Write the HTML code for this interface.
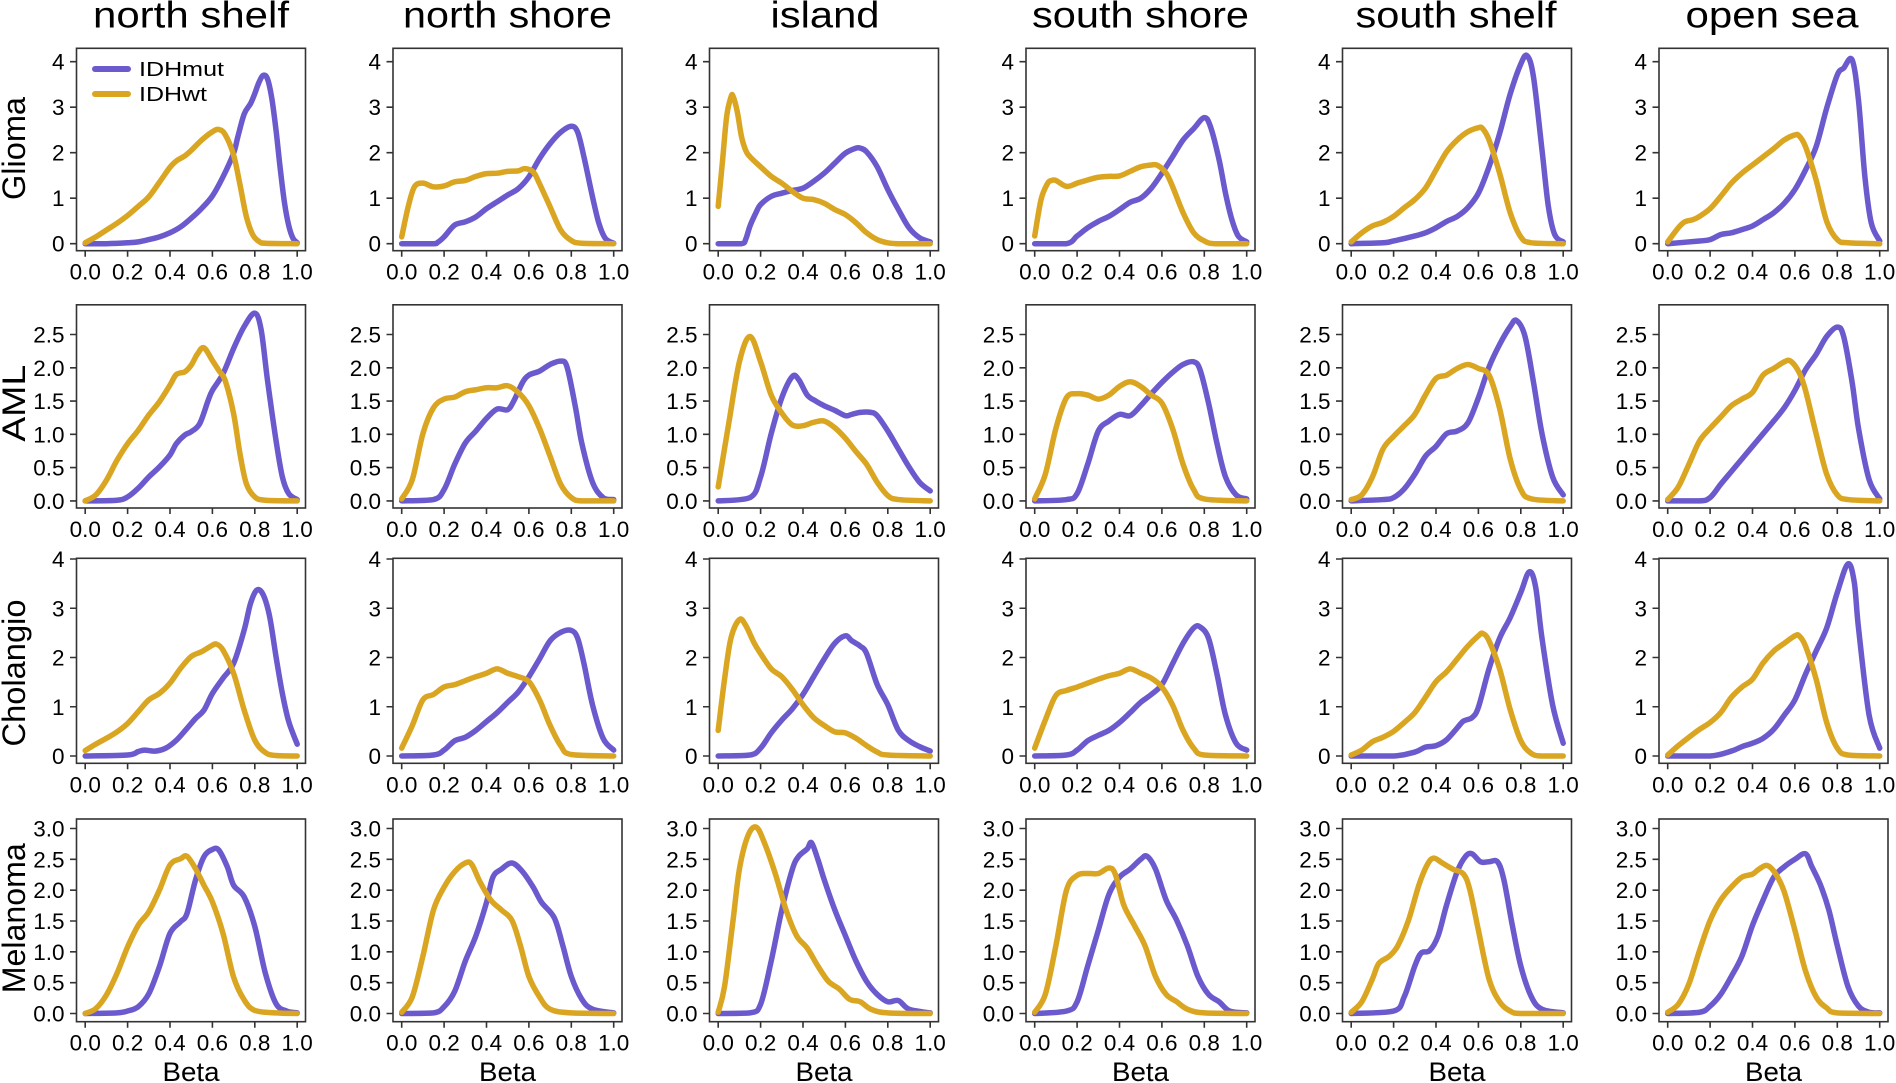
<!DOCTYPE html>
<html><head><meta charset="utf-8"><style>
html,body{margin:0;padding:0;background:#fff}
svg{display:block}
text{font-family:"Liberation Sans",Arial,sans-serif;fill:#000}
.x{font-size:22.5px;text-anchor:middle}
.y{font-size:22.5px;text-anchor:end}
.ti{font-size:37px;text-anchor:middle}
.rl{font-size:32px;text-anchor:middle}
.bt{font-size:27px;text-anchor:middle}
.lg{font-size:20px}
.ax{fill:none;stroke:#333;stroke-width:1.6}
.m{fill:none;stroke:#6A5ACD;stroke-width:5.5;stroke-linejoin:round;stroke-linecap:round;vector-effect:non-scaling-stroke}
.w{fill:none;stroke:#DAA520;stroke-width:5.5;stroke-linejoin:round;stroke-linecap:round;vector-effect:non-scaling-stroke}
</style></head><body>
<svg id="fig" width="1896" height="1083" viewBox="0 0 1896 1083" xmlns="http://www.w3.org/2000/svg">
<rect width="1896" height="1083" fill="#fff"/>
<!-- titles -->
<text class="ti" x="191" y="27.7" textLength="196" lengthAdjust="spacingAndGlyphs">north shelf</text>
<text class="ti" x="507.5" y="27.7" textLength="209" lengthAdjust="spacingAndGlyphs">north shore</text>
<text class="ti" x="825" y="27.7" textLength="109" lengthAdjust="spacingAndGlyphs">island</text>
<text class="ti" x="1140.5" y="27.7" textLength="217" lengthAdjust="spacingAndGlyphs">south shore</text>
<text class="ti" x="1456" y="27.7" textLength="201" lengthAdjust="spacingAndGlyphs">south shelf</text>
<text class="ti" x="1772" y="27.7" textLength="173" lengthAdjust="spacingAndGlyphs">open sea</text>
<!-- row labels -->
<text class="rl" transform="translate(25,148.5) rotate(-90)" textLength="103" lengthAdjust="spacingAndGlyphs">Glioma</text>
<text class="rl" transform="translate(25,403.3) rotate(-90)" textLength="77" lengthAdjust="spacingAndGlyphs">AML</text>
<text class="rl" transform="translate(25,673) rotate(-90)" textLength="147" lengthAdjust="spacingAndGlyphs">Cholangio</text>
<text class="rl" transform="translate(25,918.3) rotate(-90)" textLength="150" lengthAdjust="spacingAndGlyphs">Melanoma</text>
<!-- Beta labels -->
<text class="bt" x="191" y="1081" textLength="57" lengthAdjust="spacingAndGlyphs">Beta</text>
<text class="bt" x="507.5" y="1081" textLength="57" lengthAdjust="spacingAndGlyphs">Beta</text>
<text class="bt" x="824" y="1081" textLength="57" lengthAdjust="spacingAndGlyphs">Beta</text>
<text class="bt" x="1140.5" y="1081" textLength="57" lengthAdjust="spacingAndGlyphs">Beta</text>
<text class="bt" x="1457" y="1081" textLength="57" lengthAdjust="spacingAndGlyphs">Beta</text>
<text class="bt" x="1773.5" y="1081" textLength="57" lengthAdjust="spacingAndGlyphs">Beta</text>

<!-- ================= ROW 1 (Glioma) ================= -->
<g transform="translate(76.5,48.3)">
<rect class="ax" width="229" height="202.4"/>
<path class="ax" d="M8.7 202.4v6M51.1 202.4v6M93.5 202.4v6M135.9 202.4v6M178.3 202.4v6M220.7 202.4v6M-6.5 195.4h6.5M-6.5 149.9h6.5M-6.5 104.4h6.5M-6.5 58.9h6.5M-6.5 13.4h6.5"/>
<text class="x" x="8.7" y="231.4">0.0</text><text class="x" x="51.1" y="231.4">0.2</text><text class="x" x="93.5" y="231.4">0.4</text><text class="x" x="135.9" y="231.4">0.6</text><text class="x" x="178.3" y="231.4">0.8</text><text class="x" x="220.7" y="231.4">1.0</text>
<text class="y" x="-12" y="21.4">4</text><text class="y" x="-12" y="66.9">3</text><text class="y" x="-12" y="112.4">2</text><text class="y" x="-12" y="157.9">1</text><text class="y" x="-12" y="203.4">0</text>
<g transform="translate(8.7,195.4) scale(2.12,-0.455)">
<polyline class="m" points="0,0 10,0 20,2 25,4 30,9 35,15 40,24 45,37 50,56 55,78 60,105 65,147 70,199 72,235 75,285 78,308 80,330 82,355 84,370 86,362 88,320 90,250 92,165 94,90 96,40 98,12 100,2"/>
<polyline class="w" points="0,2 5,15 10,30 15,45 20,62 25,82 30,103 35,135 40,168 43,182 47,193 50,205 55,228 60,246 63,251 66,240 70,195 73,130 76,60 79,20 82,5 85,1 100,0"/>
</g>
</g>
<!-- legend -->
<line x1="95" y1="69" x2="128" y2="69" stroke="#6A5ACD" stroke-width="6" stroke-linecap="round"/>
<line x1="95" y1="94" x2="128" y2="94" stroke="#DAA520" stroke-width="6" stroke-linecap="round"/>
<text class="lg" x="139" y="76" textLength="85" lengthAdjust="spacingAndGlyphs">IDHmut</text>
<text class="lg" x="139" y="101" textLength="68" lengthAdjust="spacingAndGlyphs">IDHwt</text>

<g transform="translate(393,48.3)">
<rect class="ax" width="229" height="202.4"/>
<path class="ax" d="M8.7 202.4v6M51.1 202.4v6M93.5 202.4v6M135.9 202.4v6M178.3 202.4v6M220.7 202.4v6M-6.5 195.4h6.5M-6.5 149.9h6.5M-6.5 104.4h6.5M-6.5 58.9h6.5M-6.5 13.4h6.5"/>
<text class="x" x="8.7" y="231.4">0.0</text><text class="x" x="51.1" y="231.4">0.2</text><text class="x" x="93.5" y="231.4">0.4</text><text class="x" x="135.9" y="231.4">0.6</text><text class="x" x="178.3" y="231.4">0.8</text><text class="x" x="220.7" y="231.4">1.0</text>
<text class="y" x="-12" y="21.4">4</text><text class="y" x="-12" y="66.9">3</text><text class="y" x="-12" y="112.4">2</text><text class="y" x="-12" y="157.9">1</text><text class="y" x="-12" y="203.4">0</text>
<g transform="translate(8.7,195.4) scale(2.12,-0.455)">
<polyline class="m" points="0,0 15,0 17,3 20,15 25,41 30,48 35,59 40,77 45,92 50,107 55,121 60,147 65,187 70,220 75,245 80,258 83,245 86,190 90,103 93,45 96,12 100,1"/>
<polyline class="w" points="0,15 3,80 6,125 10,133 15,125 20,127 25,136 30,139 35,148 40,154 45,155 50,159 55,160 58,165 62,158 65,132 70,81 75,30 80,7 85,1 100,0"/>
</g>
</g>

<g transform="translate(709.5,48.3)">
<rect class="ax" width="229" height="202.4"/>
<path class="ax" d="M8.7 202.4v6M51.1 202.4v6M93.5 202.4v6M135.9 202.4v6M178.3 202.4v6M220.7 202.4v6M-6.5 195.4h6.5M-6.5 149.9h6.5M-6.5 104.4h6.5M-6.5 58.9h6.5M-6.5 13.4h6.5"/>
<text class="x" x="8.7" y="231.4">0.0</text><text class="x" x="51.1" y="231.4">0.2</text><text class="x" x="93.5" y="231.4">0.4</text><text class="x" x="135.9" y="231.4">0.6</text><text class="x" x="178.3" y="231.4">0.8</text><text class="x" x="220.7" y="231.4">1.0</text>
<text class="y" x="-12" y="21.4">4</text><text class="y" x="-12" y="66.9">3</text><text class="y" x="-12" y="112.4">2</text><text class="y" x="-12" y="157.9">1</text><text class="y" x="-12" y="203.4">0</text>
<g transform="translate(8.7,195.4) scale(2.12,-0.455)">
<polyline class="m" points="0,0 11,0 13,10 15,39 18,70 20,86 25,104 30,111 35,117 40,122 45,137 50,155 55,177 60,199 65,210 67,210 70,202 75,169 80,119 85,75 90,35 95,13 100,4"/>
<polyline class="w" points="0,82 2,180 4,280 6,322 7,324 9,290 11,235 13,205 15,191 20,169 25,148 30,133 35,115 40,100 45,97 50,89 55,75 60,64 65,46 70,24 75,9 80,2 85,0 100,0"/>
</g>
</g>

<g transform="translate(1026,48.3)">
<rect class="ax" width="229" height="202.4"/>
<path class="ax" d="M8.7 202.4v6M51.1 202.4v6M93.5 202.4v6M135.9 202.4v6M178.3 202.4v6M220.7 202.4v6M-6.5 195.4h6.5M-6.5 149.9h6.5M-6.5 104.4h6.5M-6.5 58.9h6.5M-6.5 13.4h6.5"/>
<text class="x" x="8.7" y="231.4">0.0</text><text class="x" x="51.1" y="231.4">0.2</text><text class="x" x="93.5" y="231.4">0.4</text><text class="x" x="135.9" y="231.4">0.6</text><text class="x" x="178.3" y="231.4">0.8</text><text class="x" x="220.7" y="231.4">1.0</text>
<text class="y" x="-12" y="21.4">4</text><text class="y" x="-12" y="66.9">3</text><text class="y" x="-12" y="112.4">2</text><text class="y" x="-12" y="157.9">1</text><text class="y" x="-12" y="203.4">0</text>
<g transform="translate(8.7,195.4) scale(2.12,-0.455)">
<polyline class="m" points="0,0 15,0 20,17 25,35 30,49 35,60 40,75 45,91 50,100 55,122 60,155 65,191 70,228 75,253 80,277 83,256 87,184 90,111 93,53 96,17 100,4"/>
<polyline class="w" points="0,17 3,97 6,132 8,139 10,139 15,126 20,133 25,140 30,146 35,148 40,149 45,159 50,169 55,173 58,172 62,155 65,126 70,68 75,24 80,6 85,0 100,0"/>
</g>
</g>

<g transform="translate(1342.5,48.3)">
<rect class="ax" width="229" height="202.4"/>
<path class="ax" d="M8.7 202.4v6M51.1 202.4v6M93.5 202.4v6M135.9 202.4v6M178.3 202.4v6M220.7 202.4v6M-6.5 195.4h6.5M-6.5 149.9h6.5M-6.5 104.4h6.5M-6.5 58.9h6.5M-6.5 13.4h6.5"/>
<text class="x" x="8.7" y="231.4">0.0</text><text class="x" x="51.1" y="231.4">0.2</text><text class="x" x="93.5" y="231.4">0.4</text><text class="x" x="135.9" y="231.4">0.6</text><text class="x" x="178.3" y="231.4">0.8</text><text class="x" x="220.7" y="231.4">1.0</text>
<text class="y" x="-12" y="21.4">4</text><text class="y" x="-12" y="66.9">3</text><text class="y" x="-12" y="112.4">2</text><text class="y" x="-12" y="157.9">1</text><text class="y" x="-12" y="203.4">0</text>
<g transform="translate(8.7,195.4) scale(2.12,-0.455)">
<polyline class="m" points="0,0 15,2 20,6 30,17 35,24 40,35 45,49 50,60 55,79 60,111 65,169 70,242 75,329 80,395 83,413 86,366 90,206 93,82 96,20 100,4"/>
<polyline class="w" points="0,4 5,24 10,39 15,47 20,60 25,79 30,97 35,122 40,162 45,202 50,228 55,246 60,255 62,253 65,228 70,155 75,68 80,15 85,2 100,0"/>
</g>
</g>

<g transform="translate(1659,48.3)">
<rect class="ax" width="229" height="202.4"/>
<path class="ax" d="M8.7 202.4v6M51.1 202.4v6M93.5 202.4v6M135.9 202.4v6M178.3 202.4v6M220.7 202.4v6M-6.5 195.4h6.5M-6.5 149.9h6.5M-6.5 104.4h6.5M-6.5 58.9h6.5M-6.5 13.4h6.5"/>
<text class="x" x="8.7" y="231.4">0.0</text><text class="x" x="51.1" y="231.4">0.2</text><text class="x" x="93.5" y="231.4">0.4</text><text class="x" x="135.9" y="231.4">0.6</text><text class="x" x="178.3" y="231.4">0.8</text><text class="x" x="220.7" y="231.4">1.0</text>
<text class="y" x="-12" y="21.4">4</text><text class="y" x="-12" y="66.9">3</text><text class="y" x="-12" y="112.4">2</text><text class="y" x="-12" y="157.9">1</text><text class="y" x="-12" y="203.4">0</text>
<g transform="translate(8.7,195.4) scale(2.12,-0.455)">
<polyline class="m" points="0,0 15,6 20,9 25,20 30,24 35,31 40,39 45,53 50,68 55,89 60,119 65,162 70,213 75,298 80,371 83,386 87,404 90,315 93,148 96,46 100,6"/>
<polyline class="w" points="0,4 5,35 8,48 12,53 15,60 20,77 25,104 30,133 35,155 40,173 45,191 50,209 55,228 60,239 62,237 65,213 70,140 75,49 80,9 85,2 100,0"/>
</g>
</g>

<!-- ================= ROW 2 (AML) ================= -->
<g transform="translate(76.5,304.8)">
<rect class="ax" width="229" height="203.2"/>
<path class="ax" d="M8.7 203.2v6M51.1 203.2v6M93.5 203.2v6M135.9 203.2v6M178.3 203.2v6M220.7 203.2v6M-6.5 196.1h6.5M-6.5 162.8h6.5M-6.5 129.5h6.5M-6.5 96.3h6.5M-6.5 63h6.5M-6.5 29.7h6.5"/>
<text class="x" x="8.7" y="232.2">0.0</text><text class="x" x="51.1" y="232.2">0.2</text><text class="x" x="93.5" y="232.2">0.4</text><text class="x" x="135.9" y="232.2">0.6</text><text class="x" x="178.3" y="232.2">0.8</text><text class="x" x="220.7" y="232.2">1.0</text>
<text class="y" x="-12" y="37.7">2.5</text><text class="y" x="-12" y="71">2.0</text><text class="y" x="-12" y="104.3">1.5</text><text class="y" x="-12" y="137.5">1.0</text><text class="y" x="-12" y="170.8">0.5</text><text class="y" x="-12" y="204.1">0.0</text>
<g transform="translate(8.7,196.1) scale(2.12,-0.6656)">
<polyline class="m" points="0,0 15,1 20,6 25,19 30,36 35,51 40,69 43,86 47,99 50,104 54,116 58,151 60,166 65,191 70,229 75,262 80,282 83,257 86,181 90,91 93,36 96,11 100,2"/>
<polyline class="w" points="0,0 5,9 10,31 15,61 20,86 25,106 30,129 35,149 40,174 43,190 47,194 50,204 53,221 56,230 60,211 63,196 66,181 70,131 73,71 76,26 80,6 85,1 100,0"/>
</g>
</g>

<g transform="translate(393,304.8)">
<rect class="ax" width="229" height="203.2"/>
<path class="ax" d="M8.7 203.2v6M51.1 203.2v6M93.5 203.2v6M135.9 203.2v6M178.3 203.2v6M220.7 203.2v6M-6.5 196.1h6.5M-6.5 162.8h6.5M-6.5 129.5h6.5M-6.5 96.3h6.5M-6.5 63h6.5M-6.5 29.7h6.5"/>
<text class="x" x="8.7" y="232.2">0.0</text><text class="x" x="51.1" y="232.2">0.2</text><text class="x" x="93.5" y="232.2">0.4</text><text class="x" x="135.9" y="232.2">0.6</text><text class="x" x="178.3" y="232.2">0.8</text><text class="x" x="220.7" y="232.2">1.0</text>
<text class="y" x="-12" y="37.7">2.5</text><text class="y" x="-12" y="71">2.0</text><text class="y" x="-12" y="104.3">1.5</text><text class="y" x="-12" y="137.5">1.0</text><text class="y" x="-12" y="170.8">0.5</text><text class="y" x="-12" y="204.1">0.0</text>
<g transform="translate(8.7,196.1) scale(2.12,-0.6656)">
<polyline class="m" points="0,0 15,2 20,17 25,55 30,87 35,105 40,124 45,138 50,137 53,151 57,178 60,189 65,195 70,205 75,210 78,201 82,140 85,86 90,28 95,5 100,2"/>
<polyline class="w" points="0,3 5,32 10,101 15,140 20,153 25,156 30,164 35,167 40,170 45,170 50,173 55,163 60,143 65,109 70,67 75,25 80,5 85,0 100,0"/>
</g>
</g>

<g transform="translate(709.5,304.8)">
<rect class="ax" width="229" height="203.2"/>
<path class="ax" d="M8.7 203.2v6M51.1 203.2v6M93.5 203.2v6M135.9 203.2v6M178.3 203.2v6M220.7 203.2v6M-6.5 196.1h6.5M-6.5 162.8h6.5M-6.5 129.5h6.5M-6.5 96.3h6.5M-6.5 63h6.5M-6.5 29.7h6.5"/>
<text class="x" x="8.7" y="232.2">0.0</text><text class="x" x="51.1" y="232.2">0.2</text><text class="x" x="93.5" y="232.2">0.4</text><text class="x" x="135.9" y="232.2">0.6</text><text class="x" x="178.3" y="232.2">0.8</text><text class="x" x="220.7" y="232.2">1.0</text>
<text class="y" x="-12" y="37.7">2.5</text><text class="y" x="-12" y="71">2.0</text><text class="y" x="-12" y="104.3">1.5</text><text class="y" x="-12" y="137.5">1.0</text><text class="y" x="-12" y="170.8">0.5</text><text class="y" x="-12" y="204.1">0.0</text>
<g transform="translate(8.7,196.1) scale(2.12,-0.6656)">
<polyline class="m" points="0,0 15,5 20,36 25,101 30,155 35,187 38,182 42,159 46,150 50,143 55,136 60,128 63,130 67,133 72,133 75,128 80,105 85,78 90,51 95,28 100,15"/>
<polyline class="w" points="0,21 5,117 10,209 15,247 20,209 25,159 30,132 35,114 40,113 45,118 50,120 55,110 60,94 65,74 70,55 75,28 80,8 85,2 100,0"/>
</g>
</g>

<g transform="translate(1026,304.8)">
<rect class="ax" width="229" height="203.2"/>
<path class="ax" d="M8.7 203.2v6M51.1 203.2v6M93.5 203.2v6M135.9 203.2v6M178.3 203.2v6M220.7 203.2v6M-6.5 196.1h6.5M-6.5 162.8h6.5M-6.5 129.5h6.5M-6.5 96.3h6.5M-6.5 63h6.5M-6.5 29.7h6.5"/>
<text class="x" x="8.7" y="232.2">0.0</text><text class="x" x="51.1" y="232.2">0.2</text><text class="x" x="93.5" y="232.2">0.4</text><text class="x" x="135.9" y="232.2">0.6</text><text class="x" x="178.3" y="232.2">0.8</text><text class="x" x="220.7" y="232.2">1.0</text>
<text class="y" x="-12" y="37.7">2.5</text><text class="y" x="-12" y="71">2.0</text><text class="y" x="-12" y="104.3">1.5</text><text class="y" x="-12" y="137.5">1.0</text><text class="y" x="-12" y="170.8">0.5</text><text class="y" x="-12" y="204.1">0.0</text>
<g transform="translate(8.7,196.1) scale(2.12,-0.6656)">
<polyline class="m" points="0,0 15,2 20,11 25,55 30,105 35,120 40,130 45,128 50,143 55,161 60,178 65,193 70,205 75,209 78,197 82,147 86,86 90,36 95,9 100,3"/>
<polyline class="w" points="0,3 5,40 10,109 15,155 20,161 25,159 30,153 35,159 40,172 45,179 50,172 55,159 60,147 65,109 70,55 75,17 80,3 100,0"/>
</g>
</g>

<g transform="translate(1342.5,304.8)">
<rect class="ax" width="229" height="203.2"/>
<path class="ax" d="M8.7 203.2v6M51.1 203.2v6M93.5 203.2v6M135.9 203.2v6M178.3 203.2v6M220.7 203.2v6M-6.5 196.1h6.5M-6.5 162.8h6.5M-6.5 129.5h6.5M-6.5 96.3h6.5M-6.5 63h6.5M-6.5 29.7h6.5"/>
<text class="x" x="8.7" y="232.2">0.0</text><text class="x" x="51.1" y="232.2">0.2</text><text class="x" x="93.5" y="232.2">0.4</text><text class="x" x="135.9" y="232.2">0.6</text><text class="x" x="178.3" y="232.2">0.8</text><text class="x" x="220.7" y="232.2">1.0</text>
<text class="y" x="-12" y="37.7">2.5</text><text class="y" x="-12" y="71">2.0</text><text class="y" x="-12" y="104.3">1.5</text><text class="y" x="-12" y="137.5">1.0</text><text class="y" x="-12" y="170.8">0.5</text><text class="y" x="-12" y="204.1">0.0</text>
<g transform="translate(8.7,196.1) scale(2.12,-0.6656)">
<polyline class="m" points="0,0 15,2 20,5 25,18 30,40 35,67 40,82 45,101 50,105 55,117 60,155 65,201 70,235 75,262 78,271 82,247 86,178 90,101 95,36 100,9"/>
<polyline class="w" points="0,2 5,9 10,36 15,78 20,97 25,113 30,130 35,159 40,184 45,189 50,199 55,205 60,199 65,189 70,139 75,63 80,17 85,3 100,0"/>
</g>
</g>

<g transform="translate(1659,304.8)">
<rect class="ax" width="229" height="203.2"/>
<path class="ax" d="M8.7 203.2v6M51.1 203.2v6M93.5 203.2v6M135.9 203.2v6M178.3 203.2v6M220.7 203.2v6M-6.5 196.1h6.5M-6.5 162.8h6.5M-6.5 129.5h6.5M-6.5 96.3h6.5M-6.5 63h6.5M-6.5 29.7h6.5"/>
<text class="x" x="8.7" y="232.2">0.0</text><text class="x" x="51.1" y="232.2">0.2</text><text class="x" x="93.5" y="232.2">0.4</text><text class="x" x="135.9" y="232.2">0.6</text><text class="x" x="178.3" y="232.2">0.8</text><text class="x" x="220.7" y="232.2">1.0</text>
<text class="y" x="-12" y="37.7">2.5</text><text class="y" x="-12" y="71">2.0</text><text class="y" x="-12" y="104.3">1.5</text><text class="y" x="-12" y="137.5">1.0</text><text class="y" x="-12" y="170.8">0.5</text><text class="y" x="-12" y="204.1">0.0</text>
<g transform="translate(8.7,196.1) scale(2.12,-0.6656)">
<polyline class="m" points="0,0 15,0 20,5 25,25 30,44 35,63 40,82 45,101 50,120 55,140 60,166 65,197 70,220 75,247 80,261 83,247 87,178 90,109 95,32 100,3"/>
<polyline class="w" points="0,2 5,21 10,55 15,90 20,109 25,126 30,143 35,153 40,163 45,189 50,199 55,209 58,210 62,193 65,166 70,101 75,40 80,9 85,2 100,0"/>
</g>
</g>

<!-- ================= ROW 3 (Cholangio) ================= -->
<g transform="translate(76.5,558.3)">
<rect class="ax" width="229" height="205"/>
<path class="ax" d="M8.7 205v6M51.1 205v6M93.5 205v6M135.9 205v6M178.3 205v6M220.7 205v6M-6.5 197.7h6.5M-6.5 148.45h6.5M-6.5 99.2h6.5M-6.5 49.95h6.5M-6.5 0.7h6.5"/>
<text class="x" x="8.7" y="234">0.0</text><text class="x" x="51.1" y="234">0.2</text><text class="x" x="93.5" y="234">0.4</text><text class="x" x="135.9" y="234">0.6</text><text class="x" x="178.3" y="234">0.8</text><text class="x" x="220.7" y="234">1.0</text>
<text class="y" x="-12" y="8.7">4</text><text class="y" x="-12" y="58">3</text><text class="y" x="-12" y="107.2">2</text><text class="y" x="-12" y="156.5">1</text><text class="y" x="-12" y="205.7">0</text>
<g transform="translate(8.7,197.7) scale(2.12,-0.4925)">
<polyline class="m" points="0,0 20,2 25,9 28,12 33,10 38,16 43,32 48,56 52,76 56,93 60,127 65,158 70,188 75,256 78,310 81,337 84,327 87,283 90,202 93,127 96,70 100,24"/>
<polyline class="w" points="0,11 5,24 10,36 15,49 20,66 25,90 30,114 35,127 40,148 45,178 50,202 55,212 60,225 62,227 65,215 70,168 75,93 80,32 85,7 90,1 100,0"/>
</g>
</g>

<g transform="translate(393,558.3)">
<rect class="ax" width="229" height="205"/>
<path class="ax" d="M8.7 205v6M51.1 205v6M93.5 205v6M135.9 205v6M178.3 205v6M220.7 205v6M-6.5 197.7h6.5M-6.5 148.45h6.5M-6.5 99.2h6.5M-6.5 49.95h6.5M-6.5 0.7h6.5"/>
<text class="x" x="8.7" y="234">0.0</text><text class="x" x="51.1" y="234">0.2</text><text class="x" x="93.5" y="234">0.4</text><text class="x" x="135.9" y="234">0.6</text><text class="x" x="178.3" y="234">0.8</text><text class="x" x="220.7" y="234">1.0</text>
<text class="y" x="-12" y="8.7">4</text><text class="y" x="-12" y="58">3</text><text class="y" x="-12" y="107.2">2</text><text class="y" x="-12" y="156.5">1</text><text class="y" x="-12" y="205.7">0</text>
<g transform="translate(8.7,197.7) scale(2.12,-0.4925)">
<polyline class="m" points="0,0 15,2 20,12 25,31 30,38 35,52 40,70 45,88 50,109 55,130 60,161 65,197 70,234 75,251 80,255 83,239 86,187 90,104 95,36 100,12"/>
<polyline class="w" points="0,16 5,62 10,114 15,125 20,140 25,145 30,153 35,161 40,168 45,177 50,168 55,161 60,151 65,114 70,62 75,21 80,3 100,0"/>
</g>
</g>

<g transform="translate(709.5,558.3)">
<rect class="ax" width="229" height="205"/>
<path class="ax" d="M8.7 205v6M51.1 205v6M93.5 205v6M135.9 205v6M178.3 205v6M220.7 205v6M-6.5 197.7h6.5M-6.5 148.45h6.5M-6.5 99.2h6.5M-6.5 49.95h6.5M-6.5 0.7h6.5"/>
<text class="x" x="8.7" y="234">0.0</text><text class="x" x="51.1" y="234">0.2</text><text class="x" x="93.5" y="234">0.4</text><text class="x" x="135.9" y="234">0.6</text><text class="x" x="178.3" y="234">0.8</text><text class="x" x="220.7" y="234">1.0</text>
<text class="y" x="-12" y="8.7">4</text><text class="y" x="-12" y="58">3</text><text class="y" x="-12" y="107.2">2</text><text class="y" x="-12" y="156.5">1</text><text class="y" x="-12" y="205.7">0</text>
<g transform="translate(8.7,197.7) scale(2.12,-0.4925)">
<polyline class="m" points="0,0 15,2 20,16 25,47 30,73 35,96 40,125 45,161 50,197 55,229 60,244 63,234 67,223 70,208 75,145 80,104 85,52 90,31 95,19 100,10"/>
<polyline class="w" points="0,52 3,156 6,239 10,277 13,265 17,229 20,208 25,177 30,161 35,135 40,104 45,78 50,62 55,49 60,47 65,36 70,21 75,8 80,2 100,0"/>
</g>
</g>

<g transform="translate(1026,558.3)">
<rect class="ax" width="229" height="205"/>
<path class="ax" d="M8.7 205v6M51.1 205v6M93.5 205v6M135.9 205v6M178.3 205v6M220.7 205v6M-6.5 197.7h6.5M-6.5 148.45h6.5M-6.5 99.2h6.5M-6.5 49.95h6.5M-6.5 0.7h6.5"/>
<text class="x" x="8.7" y="234">0.0</text><text class="x" x="51.1" y="234">0.2</text><text class="x" x="93.5" y="234">0.4</text><text class="x" x="135.9" y="234">0.6</text><text class="x" x="178.3" y="234">0.8</text><text class="x" x="220.7" y="234">1.0</text>
<text class="y" x="-12" y="8.7">4</text><text class="y" x="-12" y="58">3</text><text class="y" x="-12" y="107.2">2</text><text class="y" x="-12" y="156.5">1</text><text class="y" x="-12" y="205.7">0</text>
<g transform="translate(8.7,197.7) scale(2.12,-0.4925)">
<polyline class="m" points="0,0 15,2 20,12 25,31 30,42 35,52 40,68 45,88 50,109 55,125 60,145 65,187 70,229 75,260 78,262 82,239 86,166 90,83 95,26 100,12"/>
<polyline class="w" points="0,16 5,73 10,123 15,133 20,140 25,148 30,156 35,163 40,168 45,177 50,168 55,158 60,140 65,104 70,52 75,16 80,2 100,0"/>
</g>
</g>

<g transform="translate(1342.5,558.3)">
<rect class="ax" width="229" height="205"/>
<path class="ax" d="M8.7 205v6M51.1 205v6M93.5 205v6M135.9 205v6M178.3 205v6M220.7 205v6M-6.5 197.7h6.5M-6.5 148.45h6.5M-6.5 99.2h6.5M-6.5 49.95h6.5M-6.5 0.7h6.5"/>
<text class="x" x="8.7" y="234">0.0</text><text class="x" x="51.1" y="234">0.2</text><text class="x" x="93.5" y="234">0.4</text><text class="x" x="135.9" y="234">0.6</text><text class="x" x="178.3" y="234">0.8</text><text class="x" x="220.7" y="234">1.0</text>
<text class="y" x="-12" y="8.7">4</text><text class="y" x="-12" y="58">3</text><text class="y" x="-12" y="107.2">2</text><text class="y" x="-12" y="156.5">1</text><text class="y" x="-12" y="205.7">0</text>
<g transform="translate(8.7,197.7) scale(2.12,-0.4925)">
<polyline class="m" points="0,0 20,0 30,8 35,18 40,21 45,33 50,57 53,71 57,78 60,99 65,177 70,239 75,281 80,332 84,374 87,343 90,239 95,104 100,26"/>
<polyline class="w" points="0,2 5,12 10,29 15,38 20,50 25,68 30,88 35,119 40,151 45,171 50,197 55,223 60,244 62,249 65,234 70,177 75,94 80,31 85,5 90,0 100,0"/>
</g>
</g>

<g transform="translate(1659,558.3)">
<rect class="ax" width="229" height="205"/>
<path class="ax" d="M8.7 205v6M51.1 205v6M93.5 205v6M135.9 205v6M178.3 205v6M220.7 205v6M-6.5 197.7h6.5M-6.5 148.45h6.5M-6.5 99.2h6.5M-6.5 49.95h6.5M-6.5 0.7h6.5"/>
<text class="x" x="8.7" y="234">0.0</text><text class="x" x="51.1" y="234">0.2</text><text class="x" x="93.5" y="234">0.4</text><text class="x" x="135.9" y="234">0.6</text><text class="x" x="178.3" y="234">0.8</text><text class="x" x="220.7" y="234">1.0</text>
<text class="y" x="-12" y="8.7">4</text><text class="y" x="-12" y="58">3</text><text class="y" x="-12" y="107.2">2</text><text class="y" x="-12" y="156.5">1</text><text class="y" x="-12" y="205.7">0</text>
<g transform="translate(8.7,197.7) scale(2.12,-0.4925)">
<polyline class="m" points="0,0 20,0 30,10 35,19 40,26 45,36 50,54 55,83 60,114 65,166 70,213 75,260 80,332 85,390 88,353 90,260 95,83 100,16"/>
<polyline class="w" points="0,2 5,21 10,38 15,54 20,68 25,88 30,119 35,140 40,156 45,189 50,213 55,229 60,244 62,244 65,223 70,156 75,68 80,16 85,2 100,0"/>
</g>
</g>

<!-- ================= ROW 4 (Melanoma) ================= -->
<g transform="translate(76.5,819)">
<rect class="ax" width="229" height="202.7"/>
<path class="ax" d="M8.7 202.7v6M51.1 202.7v6M93.5 202.7v6M135.9 202.7v6M178.3 202.7v6M220.7 202.7v6M-6.5 194.5h6.5M-6.5 163.7h6.5M-6.5 132.8h6.5M-6.5 102h6.5M-6.5 71.2h6.5M-6.5 40.3h6.5M-6.5 9.5h6.5"/>
<text class="x" x="8.7" y="231.7">0.0</text><text class="x" x="51.1" y="231.7">0.2</text><text class="x" x="93.5" y="231.7">0.4</text><text class="x" x="135.9" y="231.7">0.6</text><text class="x" x="178.3" y="231.7">0.8</text><text class="x" x="220.7" y="231.7">1.0</text>
<text class="y" x="-12" y="17.5">3.0</text><text class="y" x="-12" y="48.3">2.5</text><text class="y" x="-12" y="79.2">2.0</text><text class="y" x="-12" y="110">1.5</text><text class="y" x="-12" y="140.8">1.0</text><text class="y" x="-12" y="171.7">0.5</text><text class="y" x="-12" y="202.5">0.0</text>
<g transform="translate(8.7,194.5) scale(2.12,-0.6167)">
<polyline class="m" points="0,0 15,1 20,4 25,11 30,32 35,76 40,130 45,149 48,162 52,216 56,254 60,266 63,265 67,238 70,208 75,189 80,141 85,65 90,16 95,4 100,1"/>
<polyline class="w" points="0,0 5,8 10,30 15,65 20,108 25,143 30,165 35,200 40,241 45,251 48,255 52,235 56,208 60,181 65,130 70,59 75,22 80,5 90,1 100,0"/>
</g>
</g>

<g transform="translate(393,819)">
<rect class="ax" width="229" height="202.7"/>
<path class="ax" d="M8.7 202.7v6M51.1 202.7v6M93.5 202.7v6M135.9 202.7v6M178.3 202.7v6M220.7 202.7v6M-6.5 194.5h6.5M-6.5 163.7h6.5M-6.5 132.8h6.5M-6.5 102h6.5M-6.5 71.2h6.5M-6.5 40.3h6.5M-6.5 9.5h6.5"/>
<text class="x" x="8.7" y="231.7">0.0</text><text class="x" x="51.1" y="231.7">0.2</text><text class="x" x="93.5" y="231.7">0.4</text><text class="x" x="135.9" y="231.7">0.6</text><text class="x" x="178.3" y="231.7">0.8</text><text class="x" x="220.7" y="231.7">1.0</text>
<text class="y" x="-12" y="17.5">3.0</text><text class="y" x="-12" y="48.3">2.5</text><text class="y" x="-12" y="79.2">2.0</text><text class="y" x="-12" y="110">1.5</text><text class="y" x="-12" y="140.8">1.0</text><text class="y" x="-12" y="171.7">0.5</text><text class="y" x="-12" y="202.5">0.0</text>
<g transform="translate(8.7,194.5) scale(2.12,-0.6167)">
<polyline class="m" points="0,0 15,1 20,11 25,36 30,85 35,126 40,180 43,221 47,234 52,244 57,230 62,205 66,180 72,155 76,110 80,60 85,23 90,7 100,1"/>
<polyline class="w" points="0,2 5,27 10,93 15,168 20,205 25,230 30,244 33,242 37,213 42,184 47,168 52,151 56,110 60,60 65,27 70,7 80,1 100,0"/>
</g>
</g>

<g transform="translate(709.5,819)">
<rect class="ax" width="229" height="202.7"/>
<path class="ax" d="M8.7 202.7v6M51.1 202.7v6M93.5 202.7v6M135.9 202.7v6M178.3 202.7v6M220.7 202.7v6M-6.5 194.5h6.5M-6.5 163.7h6.5M-6.5 132.8h6.5M-6.5 102h6.5M-6.5 71.2h6.5M-6.5 40.3h6.5M-6.5 9.5h6.5"/>
<text class="x" x="8.7" y="231.7">0.0</text><text class="x" x="51.1" y="231.7">0.2</text><text class="x" x="93.5" y="231.7">0.4</text><text class="x" x="135.9" y="231.7">0.6</text><text class="x" x="178.3" y="231.7">0.8</text><text class="x" x="220.7" y="231.7">1.0</text>
<text class="y" x="-12" y="17.5">3.0</text><text class="y" x="-12" y="48.3">2.5</text><text class="y" x="-12" y="79.2">2.0</text><text class="y" x="-12" y="110">1.5</text><text class="y" x="-12" y="140.8">1.0</text><text class="y" x="-12" y="171.7">0.5</text><text class="y" x="-12" y="202.5">0.0</text>
<g transform="translate(8.7,194.5) scale(2.12,-0.6167)">
<polyline class="m" points="0,0 15,1 20,15 25,85 30,168 35,234 38,255 42,267 44,277 47,250 50,217 55,168 60,126 65,85 70,52 75,31 80,19 85,21 90,7 100,1"/>
<polyline class="w" points="0,2 3,44 7,151 10,234 14,288 18,302 22,275 27,226 32,168 37,126 42,106 47,77 52,52 57,40 62,23 67,19 72,7 80,1 100,0"/>
</g>
</g>

<g transform="translate(1026,819)">
<rect class="ax" width="229" height="202.7"/>
<path class="ax" d="M8.7 202.7v6M51.1 202.7v6M93.5 202.7v6M135.9 202.7v6M178.3 202.7v6M220.7 202.7v6M-6.5 194.5h6.5M-6.5 163.7h6.5M-6.5 132.8h6.5M-6.5 102h6.5M-6.5 71.2h6.5M-6.5 40.3h6.5M-6.5 9.5h6.5"/>
<text class="x" x="8.7" y="231.7">0.0</text><text class="x" x="51.1" y="231.7">0.2</text><text class="x" x="93.5" y="231.7">0.4</text><text class="x" x="135.9" y="231.7">0.6</text><text class="x" x="178.3" y="231.7">0.8</text><text class="x" x="220.7" y="231.7">1.0</text>
<text class="y" x="-12" y="17.5">3.0</text><text class="y" x="-12" y="48.3">2.5</text><text class="y" x="-12" y="79.2">2.0</text><text class="y" x="-12" y="110">1.5</text><text class="y" x="-12" y="140.8">1.0</text><text class="y" x="-12" y="171.7">0.5</text><text class="y" x="-12" y="202.5">0.0</text>
<g transform="translate(8.7,194.5) scale(2.12,-0.6167)">
<polyline class="m" points="0,0 15,4 20,19 25,77 30,135 35,193 40,221 45,234 50,250 53,255 57,234 62,184 67,151 72,110 77,60 82,31 87,19 92,4 100,1"/>
<polyline class="w" points="0,2 5,31 10,110 15,200 20,224 25,227 30,227 35,236 38,226 42,176 47,143 52,110 57,60 62,31 67,19 72,7 80,1 100,0"/>
</g>
</g>

<g transform="translate(1342.5,819)">
<rect class="ax" width="229" height="202.7"/>
<path class="ax" d="M8.7 202.7v6M51.1 202.7v6M93.5 202.7v6M135.9 202.7v6M178.3 202.7v6M220.7 202.7v6M-6.5 194.5h6.5M-6.5 163.7h6.5M-6.5 132.8h6.5M-6.5 102h6.5M-6.5 71.2h6.5M-6.5 40.3h6.5M-6.5 9.5h6.5"/>
<text class="x" x="8.7" y="231.7">0.0</text><text class="x" x="51.1" y="231.7">0.2</text><text class="x" x="93.5" y="231.7">0.4</text><text class="x" x="135.9" y="231.7">0.6</text><text class="x" x="178.3" y="231.7">0.8</text><text class="x" x="220.7" y="231.7">1.0</text>
<text class="y" x="-12" y="17.5">3.0</text><text class="y" x="-12" y="48.3">2.5</text><text class="y" x="-12" y="79.2">2.0</text><text class="y" x="-12" y="110">1.5</text><text class="y" x="-12" y="140.8">1.0</text><text class="y" x="-12" y="171.7">0.5</text><text class="y" x="-12" y="202.5">0.0</text>
<g transform="translate(8.7,194.5) scale(2.12,-0.6167)">
<polyline class="m" points="0,0 20,4 25,27 30,77 33,98 37,102 41,126 45,176 50,230 54,255 57,259 61,246 65,246 69,246 72,217 76,143 80,77 85,27 90,7 100,1"/>
<polyline class="w" points="0,2 5,19 10,56 13,81 18,93 22,110 27,151 32,209 36,242 39,252 43,244 48,234 53,226 56,200 60,135 65,56 70,19 75,4 80,0 100,0"/>
</g>
</g>

<g transform="translate(1659,819)">
<rect class="ax" width="229" height="202.7"/>
<path class="ax" d="M8.7 202.7v6M51.1 202.7v6M93.5 202.7v6M135.9 202.7v6M178.3 202.7v6M220.7 202.7v6M-6.5 194.5h6.5M-6.5 163.7h6.5M-6.5 132.8h6.5M-6.5 102h6.5M-6.5 71.2h6.5M-6.5 40.3h6.5M-6.5 9.5h6.5"/>
<text class="x" x="8.7" y="231.7">0.0</text><text class="x" x="51.1" y="231.7">0.2</text><text class="x" x="93.5" y="231.7">0.4</text><text class="x" x="135.9" y="231.7">0.6</text><text class="x" x="178.3" y="231.7">0.8</text><text class="x" x="220.7" y="231.7">1.0</text>
<text class="y" x="-12" y="17.5">3.0</text><text class="y" x="-12" y="48.3">2.5</text><text class="y" x="-12" y="79.2">2.0</text><text class="y" x="-12" y="110">1.5</text><text class="y" x="-12" y="140.8">1.0</text><text class="y" x="-12" y="171.7">0.5</text><text class="y" x="-12" y="202.5">0.0</text>
<g transform="translate(8.7,194.5) scale(2.12,-0.6167)">
<polyline class="m" points="0,0 15,2 20,12 25,31 30,60 35,93 40,143 45,184 50,221 55,238 60,250 65,259 68,238 72,209 76,168 80,110 85,44 90,12 95,2 100,1"/>
<polyline class="w" points="0,2 5,15 10,48 15,102 20,151 25,184 30,205 35,221 40,226 43,234 47,240 51,226 55,197 60,135 65,69 70,27 75,9 80,1 100,0"/>
</g>
</g>
</svg>
<script>
(function(){
  var NS="http://www.w3.org/2000/svg";
  var pls=document.querySelectorAll("#fig polyline");
  for(var k=0;k<pls.length;k++){
    var pl=pls[k];
    var raw=pl.getAttribute("points").trim().split(/\s+/);
    var p=[];
    for(var i=0;i<raw.length;i++){var a=raw[i].split(",");p.push([+a[0],+a[1]]);}
    var d="M"+p[0][0]+","+p[0][1];
    for(var i=0;i<p.length-1;i++){
      var p0=p[i-1]||p[i],p1=p[i],p2=p[i+1],p3=p[i+2]||p[i+1];
      var c1x=p1[0]+(p2[0]-p0[0])/6,c1y=p1[1]+(p2[1]-p0[1])/6;
      var c2x=p2[0]-(p3[0]-p1[0])/6,c2y=p2[1]-(p3[1]-p1[1])/6;
      c1x=Math.max(p1[0],Math.min(p2[0],c1x));c2x=Math.max(p1[0],Math.min(p2[0],c2x));
      if(c1y<0)c1y=0;if(c2y<0)c2y=0;
      d+="C"+c1x.toFixed(2)+","+c1y.toFixed(2)+" "+c2x.toFixed(2)+","+c2y.toFixed(2)+" "+p2[0]+","+p2[1];
    }
    var path=document.createElementNS(NS,"path");
    path.setAttribute("d",d);
    path.setAttribute("class",pl.getAttribute("class"));
    pl.parentNode.replaceChild(path,pl);
  }
})();
</script>
</body></html>
